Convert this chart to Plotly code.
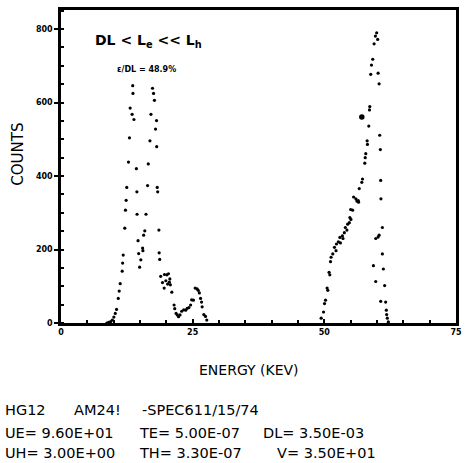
import plotly.graph_objects as go

# ---- data (energy in keV, counts) ----
energy = [8.7, 9.04, 9.42, 9.74, 10.04, 10.30, 10.55, 10.87, 11.05, 11.24, 11.62, 11.70, 11.81,
          12.11, 12.24, 12.37, 12.49, 12.81, 13.0, 13.13, 13.5, 13.85, 13.62, 13.66,
          14.31, 14.41, 14.44, 14.63, 14.75, 14.93, 15.16, 15.5, 15.55, 15.69, 15.91, 16.14,
          16.44, 16.57, 16.89, 17.08, 17.38, 17.57, 17.74, 17.95, 18.14, 18.17, 18.27, 18.36,
          18.59, 18.64, 18.74, 18.93, 19.27, 19.64, 19.59, 19.91, 20.09, 20.24, 20.40, 20.58,
          20.77, 20.67, 21.04, 21.47, 21.6, 21.85, 22.09, 22.32, 22.6, 22.92, 23.31, 23.67,
          23.97, 24.29, 24.61, 24.80, 25.14, 25.48, 25.84, 26.05, 26.27, 26.5, 26.69, 26.8,
          27.12, 27.44, 27.68,
          49.40, 49.85, 50.04, 50.23, 50.53, 50.66, 50.90, 51.04, 51.17, 51.28, 51.60, 51.92,
          52.22, 52.30, 52.67, 53.05, 52.95, 53.43, 53.54, 53.80, 53.99, 54.29, 54.43, 54.75,
          54.85, 55.05, 55.0, 55.37, 55.56, 55.99, 56.18, 56.44, 56.5, 56.63, 57.12, 57.25,
          57.68, 57.76, 57.87, 58.19, 58.13, 58.44, 58.57, 58.63, 58.81, 58.95, 59.19, 59.45,
          59.70, 59.94, 60.13, 60.21, 60.40, 60.51, 60.64, 60.7, 60.75, 61.02, 60.40, 60.21,
          59.76, 61.02, 59.32, 61.21, 59.76, 61.45, 60.70, 61.64, 61.77, 61.83, 61.96, 62.15]
counts = [0, 1.5, 3.5, 8, 16, 26, 37, 67, 87, 107, 141, 163, 185,
          258, 307, 334, 369, 438, 504, 585, 568, 554, 646, 625,
          420, 357, 296, 224, 189, 152, 172, 204, 197, 239, 251, 296,
          374, 433, 496, 568, 639, 625, 606, 528, 551, 480, 369, 357,
          253, 191, 173, 127, 110, 132, 95, 115, 131, 106, 134, 111,
          104, 120, 84, 49, 39, 26, 22, 17, 22, 32, 36, 35,
          40, 42, 49, 63, 62, 95, 93, 89, 82, 67, 57, 44,
          23, 18, 8,
          13, 30, 53, 62, 95, 89, 138, 131, 167, 179, 188, 206,
          197, 215, 221, 218, 233, 237, 230, 246, 260, 253, 269, 273,
          287, 282, 309, 307, 343, 338, 332, 333, 329, 366, 383, 392,
          435, 450, 461, 486, 496, 536, 580, 589, 677, 702, 718, 760,
          781, 790, 772, 680, 651, 511, 472, 388, 338, 260, 239, 234,
          230, 188, 156, 147, 113, 102, 59, 57, 35, 23, 13, 3]
marked_energy = [57.12]
marked_counts = [561]

x_ticks = [0, 25, 50, 75]
y_ticks = [0, 200, 400, 600, 800]

title_text = "DL < L<sub>e</sub> << L<sub>h</sub>"
ratio_text = "ε/DL = 48.9%"
x_label = "ENERGY (KEV)"
y_label = "COUNTS"
info_tokens = [
    ["HG12", "AM24!", "-SPEC611/15/74"],
    ["UE= 9.60E+01", "TE= 5.00E-07", "DL= 3.50E-03"],
    ["UH= 3.00E+00", "TH= 3.30E-07", "V= 3.50E+01"],
]

W, H = 469, 463
L, R, T, B = 61, 461, 7, 323


def px(x):
    return (x - L) / (R - L)


def py(y):
    return (B - y) / (B - T)


fig = go.Figure()
fig.add_trace(go.Scatter(x=energy, y=counts, mode="markers",
                         marker=dict(color="black", size=3.2), hoverinfo="skip"))
fig.add_trace(go.Scatter(x=marked_energy, y=marked_counts, mode="markers",
                         marker=dict(color="black", size=5.5), hoverinfo="skip"))

axis_common = dict(showgrid=False, zeroline=False, showline=True, linecolor="black",
                   linewidth=2.5, mirror=True, tickcolor="black",
                   tickfont=dict(family="DejaVu Sans", size=8, color="black", weight="bold"))

fig.update_layout(
    width=W, height=H, margin=dict(l=L, r=W - R, t=T, b=H - B),
    paper_bgcolor="white", plot_bgcolor="white", showlegend=False,
    xaxis=dict(range=[0, 75], tickvals=x_ticks, ticks="inside", ticklen=4, tickwidth=2,
               minor=dict(dtick=5, ticks="inside", ticklen=3, tickwidth=1.5, tickcolor="black"),
               **axis_common),
    yaxis=dict(range=[0, 852], tickvals=y_ticks, ticks="outside", ticklen=4, tickwidth=2,
               minor=dict(dtick=50, ticks="inside", ticklen=3, tickwidth=1.5, tickcolor="black"),
               **axis_common),
)

ann = []
ann.append(dict(x=px(150), y=py(38), text=title_text, showarrow=False, xanchor="center", yanchor="middle",
                font=dict(family="DejaVu Sans", size=14, color="black", weight="bold")))
ann.append(dict(x=px(148), y=py(67), text=ratio_text, showarrow=False, xanchor="center", yanchor="middle",
                font=dict(family="DejaVu Sans", size=8, color="black", weight="bold")))
ann.append(dict(x=px(251), y=py(370), text=x_label, showarrow=False, xanchor="center", yanchor="middle",
                font=dict(family="DejaVu Sans", size=14, color="black")))
ann.append(dict(x=px(17.5), y=py(153), text=y_label, showarrow=False, xanchor="center", yanchor="middle",
                textangle=-90, font=dict(family="DejaVu Sans", size=15, color="black")))

token_x = [[2, 72, 141], [2, 138, 264], [2, 138, 278]]
line_y = [411, 434, 454]
for row, xs, yy in zip(info_tokens, token_x, line_y):
    for tok, xx in zip(row, xs):
        ann.append(dict(x=px(xx), y=py(yy), text=tok, showarrow=False, xanchor="left", yanchor="middle",
                        font=dict(family="DejaVu Sans", size=14.5, color="black")))

fig.update_layout(annotations=[dict(a, xref="paper", yref="paper") for a in ann])

fig.write_html("out.html")
